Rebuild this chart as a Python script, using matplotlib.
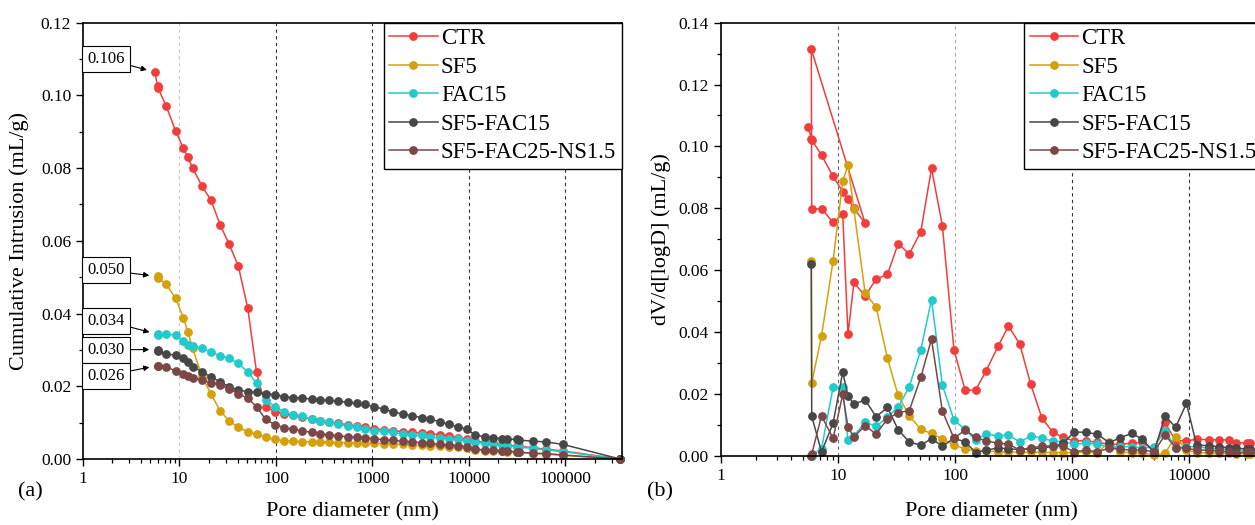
import numpy as np
import matplotlib
matplotlib.use("Agg")
import matplotlib.pyplot as plt
from matplotlib import ticker

plt.rcParams['font.family'] = ['Liberation Serif', 'DejaVu Serif']

# Pore diameters (nm), shared by all mixes
pore_d = [5.57, 5.93, 5.98, 7.25, 9.1, 11.0, 12.2, 13.7, 17.1, 21.2, 26.5, 32.7,
          40.7, 51, 63, 78, 98, 122, 150, 184, 234, 286, 357, 443, 553, 686, 836,
          1040, 1315, 1640, 2084, 2547, 3236, 3945, 5000, 6209, 7638, 9462,
          11540, 14650, 17860, 21830, 24950, 31190, 33130, 46350, 62810, 94800,
          367000]

names = ["CTR", "SF5", "FAC15", "SF5-FAC15", "SF5-FAC25-NS1.5"]
colors = ["#F23D3D", "#D4A00C", "#22CACA", "#474747", "#7B4747"]

# Cumulative intrusion (mL/g)
cum_ctr = [0.1064, 0.1025, 0.1021, 0.0972, 0.0903, 0.0854, 0.0830, 0.0800, 0.0751,
           0.0712, 0.0643, 0.0591, 0.0531, 0.0415, 0.0238, 0.0144, 0.0130, 0.0125,
           0.0120, 0.0115, 0.0110, 0.0105, 0.0101, 0.0098, 0.0094, 0.0090, 0.0087,
           0.0083, 0.0080, 0.0078, 0.0075, 0.0073, 0.0071, 0.0069, 0.0067, 0.0064,
           0.0059, 0.0054, 0.0049, 0.0046, 0.0043, 0.0040, 0.0038, 0.0036, 0.0035,
           0.0031, 0.0027, 0.0022, 0.0]
cum_sf5 = [np.nan, 0.0502, 0.0499, 0.0481, 0.0443, 0.0388, 0.0350, 0.0304, 0.0228,
           0.0179, 0.0132, 0.0105, 0.0087, 0.0075, 0.0068, 0.0060, 0.0054, 0.0050,
           0.0049, 0.0048, 0.0047, 0.0047, 0.0046, 0.0045, 0.0045, 0.0044, 0.0044,
           0.0043, 0.0042, 0.0041, 0.0040, 0.0039, 0.0038, 0.0037, 0.0035, 0.0034,
           0.0032, 0.0030, 0.0025, 0.0023, 0.0022, 0.0021, 0.0020, 0.0018, 0.0018,
           0.0015, 0.0013, 0.0010, 0.0]
cum_fac15 = [np.nan, 0.0343, 0.0342, 0.0343, 0.0341, 0.0324, 0.0313, 0.0310, 0.0304,
             0.0295, 0.0283, 0.0277, 0.0263, 0.0240, 0.0208, 0.0162, 0.0144, 0.0130,
             0.0121, 0.0117, 0.0110, 0.0105, 0.0101, 0.0096, 0.0091, 0.0087, 0.0082,
             0.0078, 0.0076, 0.0073, 0.0068, 0.0066, 0.0065, 0.0061, 0.0058, 0.0056,
             0.0054, 0.0050, 0.0046, 0.0043, 0.0040, 0.0038, 0.0037, 0.0034, 0.0033,
             0.0029, 0.0025, 0.0020, 0.0]
cum_sf5_fac15 = [np.nan, 0.0301, 0.0298, 0.0288, 0.0286, 0.0278, 0.0266, 0.0254, 0.0240,
                 0.0226, 0.0212, 0.0199, 0.0190, 0.0185, 0.0183, 0.0180, 0.0177, 0.0171,
                 0.0169, 0.0167, 0.0165, 0.0163, 0.0161, 0.0159, 0.0156, 0.0153, 0.0150,
                 0.0144, 0.0137, 0.0130, 0.0123, 0.0119, 0.0114, 0.0109, 0.0103, 0.0095,
                 0.0089, 0.0082, 0.0066, 0.0061, 0.0058, 0.0056, 0.0055, 0.0054, 0.0052,
                 0.0049, 0.0047, 0.0040, 0.0]
cum_ns = [np.nan, 0.0257, 0.0255, 0.0254, 0.0242, 0.0235, 0.0228, 0.0224, 0.0217,
          0.0210, 0.0203, 0.0192, 0.0180, 0.0167, 0.0144, 0.0109, 0.0094, 0.0086,
          0.0082, 0.0078, 0.0073, 0.0069, 0.0066, 0.0064, 0.0061, 0.0060, 0.0058,
          0.0056, 0.0053, 0.0051, 0.0049, 0.0047, 0.0045, 0.0043, 0.0040, 0.0039,
          0.0037, 0.0034, 0.0027, 0.0025, 0.0024, 0.0023, 0.0022, 0.0019, 0.0019,
          0.0016, 0.0015, 0.0011, 0.0]

# dV/dlogD (mL/g), from pore_d[1:] onward
dv_ctr = [0.1314, 0.0796, 0.0799, 0.0754, 0.0781, 0.0392, 0.0560, 0.0516, 0.0571,
          0.0586, 0.0686, 0.0652, 0.0724, 0.0929, 0.0743, 0.0342, 0.0212, 0.0212,
          0.0274, 0.0355, 0.0419, 0.0361, 0.0231, 0.0121, 0.0076, 0.0059, 0.0048,
          0.0048, 0.0043, 0.0037, 0.0037, 0.0040, 0.0043, 0.0021, 0.0108, 0.0048,
          0.0048, 0.0053, 0.0052, 0.0051, 0.0051, 0.0042, 0.0041, 0.0040, 0.0035,
          0.0030, 0.0020, 0.0]
dv_sf5 = [0.0630, 0.0236, 0.0387, 0.0630, 0.0888, 0.0939, 0.0796, 0.0525, 0.0481,
          0.0315, 0.0195, 0.0129, 0.0085, 0.0072, 0.0054, 0.0035, 0.0022, 0.0015,
          0.0015, 0.0013, 0.0012, 0.0012, 0.0011, 0.0011, 0.0010, 0.0010, 0.0010,
          0.0012, 0.0010, 0.0045, 0.0012, 0.0010, 0.0010, 0.0002, 0.0008, 0.0061,
          0.0018, 0.0010, 0.0009, 0.0008, 0.0008, 0.0007, 0.0006, 0.0006, 0.0005,
          0.0004, 0.0003, 0.0]
dv_fac15 = [0.0, 0.0, 0.0023, 0.0221, 0.0221, 0.0050, 0.0064, 0.0108, 0.0095,
            0.0125, 0.0157, 0.0223, 0.0342, 0.0505, 0.0228, 0.0115, 0.0085, 0.0051,
            0.0070, 0.0064, 0.0067, 0.0044, 0.0064, 0.0057, 0.0047, 0.0045, 0.0037,
            0.0040, 0.0037, 0.0029, 0.0029, 0.0029, 0.0024, 0.0029, 0.0081, 0.0026,
            0.0029, 0.0029, 0.0024, 0.0022, 0.0020, 0.0018, 0.0016, 0.0015, 0.0013,
            0.0010, 0.0007, 0.0]
dv_sf5_fac15 = [0.0620, 0.0128, 0.0012, 0.0105, 0.0270, 0.0194, 0.0167, 0.0180, 0.0126,
                0.0156, 0.0084, 0.0044, 0.0034, 0.0055, 0.0031, 0.0056, 0.0045, 0.0010,
                0.0018, 0.0025, 0.0022, 0.0020, 0.0022, 0.0025, 0.0030, 0.0040, 0.0076,
                0.0076, 0.0069, 0.0042, 0.0058, 0.0072, 0.0054, 0.0011, 0.0129, 0.0092,
                0.0169, 0.0035, 0.0032, 0.0029, 0.0026, 0.0024, 0.0022, 0.0021, 0.0018,
                0.0015, 0.0010, 0.0]
dv_ns = [0.0, 0.0005, 0.0129, 0.0056, 0.0198, 0.0092, 0.0061, 0.0097, 0.0070,
         0.0119, 0.0139, 0.0146, 0.0253, 0.0377, 0.0144, 0.0056, 0.0083, 0.0059,
         0.0048, 0.0040, 0.0038, 0.0018, 0.0026, 0.0030, 0.0032, 0.0030, 0.0013,
         0.0018, 0.0013, 0.0024, 0.0021, 0.0018, 0.0018, 0.0013, 0.0067, 0.0026,
         0.0024, 0.0018, 0.0018, 0.0015, 0.0013, 0.0008, 0.0013, 0.0012, 0.0010,
         0.0008, 0.0005, 0.0]

cum_all = [cum_ctr, cum_sf5, cum_fac15, cum_sf5_fac15, cum_ns]
dv_all = [dv_ctr, dv_sf5, dv_fac15, dv_sf5_fac15, dv_ns]

# label box heights (axes fraction) for the first-point callouts
label_y = [0.917, 0.433, 0.317, 0.2505, 0.1907]


def style_axis(ax, xmax, ymax, grid_colors):
    ax.set_xscale('log')
    ax.set_xlim(1, xmax)
    ax.set_ylim(0, ymax)
    decades = [10 ** k for k in range(0, 6) if 10 ** k <= xmax]
    ax.set_xticks(decades)
    ax.xaxis.set_major_formatter(ticker.FuncFormatter(lambda v, p: "%d" % round(v)))
    ax.xaxis.set_minor_locator(ticker.LogLocator(base=10, subs=np.arange(2, 10)))
    ax.xaxis.set_minor_formatter(ticker.NullFormatter())
    ax.yaxis.set_major_locator(ticker.MultipleLocator(0.02))
    ax.yaxis.set_minor_locator(ticker.MultipleLocator(0.01))
    ax.yaxis.set_major_formatter(ticker.FormatStrFormatter('%.2f'))
    ax.tick_params(which='major', direction='out', length=5, width=1.0,
                   labelsize=12.5, top=False, right=False)
    ax.tick_params(which='minor', direction='out', length=3, width=0.9,
                   top=False, right=False)
    for s in ax.spines.values():
        s.set_linewidth(1.2)
    for xv, c in zip(decades[1:], grid_colors):
        ax.axvline(xv, color=c, lw=0.8, ls=(0, (3, 3)), zorder=0)


def add_legend(ax):
    leg = ax.legend(loc='upper right', fontsize=16.5, fancybox=False, edgecolor='black',
                    framealpha=1, borderaxespad=0, labelspacing=0.32, handlelength=2.1,
                    handletextpad=0.15, borderpad=0.25)
    leg.get_frame().set_linewidth(1.0)


fig = plt.figure(figsize=(12.55, 5.25), dpi=100)
ax1 = fig.add_axes([0.0661, 0.1257, 0.4295, 0.8311])
ax2 = fig.add_axes([0.5743, 0.1320, 0.4315, 0.8248])

# (a) cumulative intrusion
style_axis(ax1, 385000, 0.12, ["#c8c8c8", "#333333", "#333333", "#333333", "#333333"])
for name, c, cum in zip(names, colors, cum_all):
    ax1.plot(pore_d, cum, '-o', color=c, lw=1.1, ms=5.3, label=name, clip_on=False)

for c, cum, ly in zip(colors, cum_all, label_y):
    i0 = int(np.where(~np.isnan(cum))[0][0])
    ax1.annotate("%.3f" % cum[i0], xy=(pore_d[i0], cum[i0]), xytext=(0.0427, ly),
                 textcoords='axes fraction', ha='center', va='center', fontsize=12,
                 bbox=dict(boxstyle='square,pad=0.3', fc='white', ec='black', lw=0.8),
                 arrowprops=dict(arrowstyle='-|>', color='black', lw=0.8,
                                 shrinkA=0, shrinkB=6, mutation_scale=8))

ax1.set_ylabel("Cumulative Intrusion (mL/g)", fontsize=16)
ax1.set_xlabel("Pore diameter (nm)", fontsize=16)
ax1.yaxis.set_label_coords(-0.101, 0.5)
ax1.xaxis.set_label_coords(0.5, -0.099)
add_legend(ax1)

# (b) pore size distribution
style_axis(ax2, 42000, 0.14, ["#666666", "#aaaaaa", "#333333", "#333333"])
for i, (name, c, dv) in enumerate(zip(names, colors, dv_all)):
    xs = list(pore_d[1:])
    ys = list(dv)
    if i == 0:
        # CTR trace in the source starts with its cumulative points up to 17 nm
        xs = list(pore_d[:9]) + xs
        ys = list(cum_ctr[:9]) + ys
    ax2.plot(xs, ys, '-o', color=c, lw=1.1, ms=5.3, label=name, clip_on=False)

ax2.set_ylabel("dV/d[logD] (mL/g)", fontsize=16)
ax2.set_xlabel("Pore diameter (nm)", fontsize=16)
ax2.yaxis.set_label_coords(-0.092, 0.5)
ax2.xaxis.set_label_coords(0.5, -0.107)
add_legend(ax2)

fig.text(30 / 1255, 1 - 492 / 525, "(a)", ha='center', va='center', fontsize=16)
fig.text(660 / 1255, 1 - 492 / 525, "(b)", ha='center', va='center', fontsize=16)

fig.savefig("out.png", dpi=100)
